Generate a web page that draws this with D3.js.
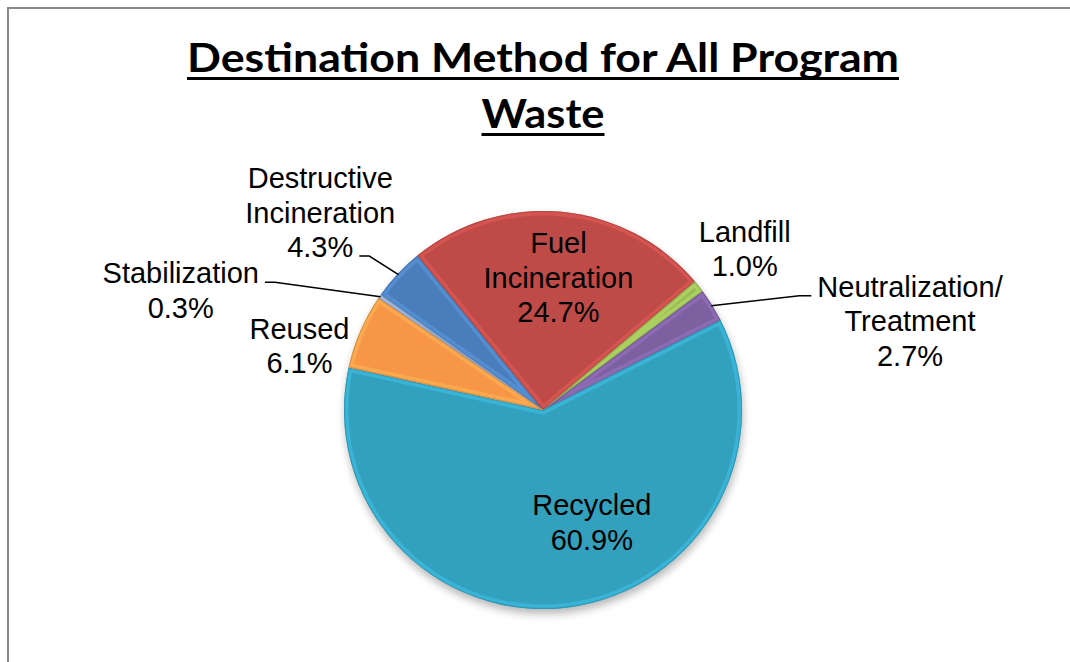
<!DOCTYPE html>
<html>
<head>
<meta charset="utf-8">
<script src="https://cdn.jsdelivr.net/npm/d3@7"></script>
<style>
  html, body { margin: 0; padding: 0; background: #fff; }
  svg { display: block; }
</style>
</head>
<body>
<div class="pie_area"></div>
<script>
// data (alphabetical, as in the sheet)
var categories = ["Destructive Incineration", "Fuel Incineration", "Landfill",
    "Neutralization/ Treatment", "Recycled", "Reused", "Stabilization"];
var shares = [4.3, 24.7, 1.0, 2.7, 60.9, 6.1, 0.3];
var labelLines = [["Destructive", "Incineration"], ["Fuel", "Incineration"], ["Landfill"],
    ["Neutralization/", "Treatment"], ["Recycled"], ["Reused"], ["Stabilization"]];
var sliceColors = ["#4A7EBB", "#BE4B48", "#98B954", "#7D60A0", "#33A0BE", "#F79646", "#93A8CC"];

var titleLines = ["Destination Method for All Program", "Waste"];

var width = 1070, height = 662;
var cx = 543, cy = 410, radius = 199;
var firstAngle = 305.4; // degrees, clockwise from 12 o'clock

// label placement: inside / outside ring + nudge, and leader lines
var labelLayout = {
    "Destructive Incineration":  { k: 1.3,  dx: -34,  dy: -21, leader: 2 },
    "Fuel Incineration":         { k: 0.67, dx: 3,    dy: 0 },
    "Landfill":                  { k: 1.3,  dx: -1,   dy: -1 },
    "Neutralization/ Treatment": { k: 1.3,  dx: 147,  dy: 47,  leader: 0 },
    "Recycled":                  { k: 0.67, dx: 32,   dy: -20 },
    "Reused":                    { k: 1.3,  dx: -6,   dy: 38 },
    "Stabilization":             { k: 1.3,  dx: -150, dy: 28,  leader: 0 }
};

var svg = d3.select(".pie_area")
    .append("svg")
    .attr("width", width)
    .attr("height", height);

var defs = svg.append("defs");

var shadow = defs.append("filter")
    .attr("id", "shadow")
    .attr("x", "-20%").attr("y", "-20%")
    .attr("width", "140%").attr("height", "140%");
shadow.append("feGaussianBlur").attr("stdDeviation", 4);

// chart frame (only left and top edges are in view)
svg.append("path")
    .attr("d", "M8," + height + "V8H" + width)
    .attr("fill", "none")
    .attr("stroke", "#8a8a8a")
    .attr("stroke-width", 2);

// title
var title = svg.append("g").attr("class", "title");
var titleBaselines = [72, 128];
var titleWidths = [712, 123];
titleLines.forEach(function (t, i) {
    title.append("text")
        .attr("x", cx)
        .attr("y", titleBaselines[i])
        .attr("text-anchor", "middle")
        .attr("textLength", titleWidths[i])
        .attr("lengthAdjust", "spacingAndGlyphs")
        .style("font-family", "Lato, 'Open Sans', sans-serif")
        .style("font-weight", "bold")
        .style("font-size", "41px")
        .style("fill", "#000")
        .text(t);
    title.append("rect")
        .attr("x", cx - titleWidths[i] / 2)
        .attr("y", titleBaselines[i] + 5)
        .attr("width", titleWidths[i])
        .attr("height", 3)
        .attr("fill", "#000");
});

var pie = d3.pie()
    .sort(null)
    .value(function (d) { return d.value; })
    .startAngle(firstAngle * Math.PI / 180)
    .endAngle((firstAngle + 360) * Math.PI / 180);

var data = categories.map(function (c, i) {
    return { name: c, value: shares[i], lines: labelLines[i], color: sliceColors[i] };
});
var total = d3.sum(shares);
var pct = d3.format(".1%");
var arcs = pie(data);

var arc = d3.arc().innerRadius(0).outerRadius(radius);

var g = svg.append("g")
    .attr("transform", "translate(" + cx + "," + cy + ")");

// soft shadow under the pie
g.append("circle")
    .attr("cx", 1)
    .attr("cy", 5)
    .attr("r", radius)
    .attr("fill", "#000")
    .attr("opacity", 0.28)
    .attr("filter", "url(#shadow)");

arcs.forEach(function (d, i) {
    defs.append("clipPath")
        .attr("id", "clip" + i)
        .append("path")
        .attr("d", arc(d));
});

var slices = g.selectAll(".slice")
    .data(arcs)
    .enter()
    .append("g")
    .attr("class", "slice");

slices.append("path")
    .attr("d", arc)
    .attr("fill", function (d) { return d.data.color; });

// bevel: light inner rim + dark outer edge
slices.append("path")
    .attr("d", arc)
    .attr("fill", "none")
    .attr("clip-path", function (d, i) { return "url(#clip" + i + ")"; })
    .attr("stroke", function (d) { return d3.color(d.data.color).brighter(0.7); })
    .attr("stroke-width", 9)
    .attr("stroke-linejoin", "round")
    .attr("opacity", 0.45);

slices.append("path")
    .attr("d", arc)
    .attr("fill", "none")
    .attr("clip-path", function (d, i) { return "url(#clip" + i + ")"; })
    .attr("stroke", function (d) { return d3.color(d.data.color).darker(0.6); })
    .attr("stroke-width", 2)
    .attr("opacity", 0.6);

// labels
var labelFont = "'Liberation Sans', Arial, sans-serif";
var lineH = 34.5, fontPx = 29;

arcs.forEach(function (d) {
    var lay = labelLayout[d.data.name];
    var ring = d3.arc().innerRadius(radius * lay.k).outerRadius(radius * lay.k);
    var c = ring.centroid(d);
    var x = c[0] + lay.dx, y = c[1] + lay.dy;
    var lines = d.data.lines.concat([pct(d.data.value / total)]);
    var n = lines.length;
    // first baseline so the block is centred on (x, y)
    var y0 = y - (n - 1) * lineH / 2 + fontPx * 0.36;

    var txt = g.append("text")
        .attr("text-anchor", "middle")
        .style("font-family", labelFont)
        .style("font-size", fontPx + "px")
        .style("fill", "#000");

    var spans = lines.map(function (l, j) {
        return txt.append("tspan")
            .attr("x", x)
            .attr("y", y0 + j * lineH)
            .text(l);
    });

    if (lay.leader !== undefined) {
        var j = lay.leader;
        var w = spans[j].node().getComputedTextLength();
        var edge = d3.arc().innerRadius(radius - 1).outerRadius(radius - 1).centroid(d);
        var right = edge[0] > x;
        var ex = right ? x + w / 2 + 6 : x - w / 2 - 6;
        var ey = y0 + j * lineH - 1;
        var bx = right ? ex + 10 : ex - 12;
        g.append("path")
            .attr("d", "M" + ex + "," + ey + "L" + bx + "," + ey + "L" + edge[0] + "," + edge[1])
            .attr("fill", "none")
            .attr("stroke", "#000")
            .attr("stroke-width", 1.5);
    }
});
</script>
</body>
</html>
